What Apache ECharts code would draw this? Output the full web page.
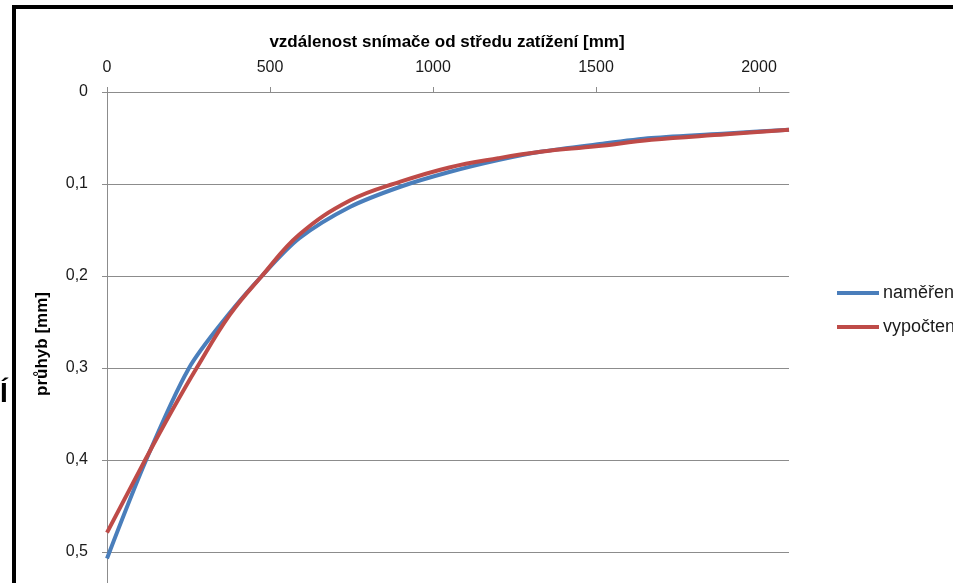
<!DOCTYPE html>
<html>
<head>
<meta charset="utf-8">
<script src="https://cdn.jsdelivr.net/npm/echarts@6/dist/echarts.min.js"></script>
<style>
html,body{margin:0;padding:0;background:#fff;}
#chart{width:953px;height:583px;}
</style>
</head>
<body>
<div id="chart"></div>
<script>
// Data
const seriesNames = ['naměřené', 'vypočtené'];
const xTicks = [0, 500, 1000, 1500, 2000];
const yTicks = [0, 0.1, 0.2, 0.3, 0.4, 0.5];
const measuredX = [0, 120, 250, 370, 475, 590, 745, 900, 1050, 1200, 1330, 1500, 1670, 1900, 2092];
const measuredY = [0.507, 0.400, 0.301, 0.243, 0.200, 0.159, 0.125, 0.103, 0.087, 0.074, 0.065, 0.057, 0.050, 0.045, 0.041];
const calcX = [0, 117, 200, 275, 377, 475, 590, 745, 900, 1050, 1200, 1330, 1500, 1670, 1900, 2092];
const calcY = [0.479, 0.400, 0.346, 0.300, 0.242, 0.200, 0.155, 0.118, 0.0975, 0.082, 0.072, 0.065, 0.059, 0.052, 0.046, 0.041];

const font = "'Liberation Sans', 'DejaVu Sans', sans-serif";
const gray = '#8c8c8c';
const chart = echarts.init(document.getElementById('chart'), null, {renderer: 'canvas'});

function pairs(xs, ys) { return xs.map((x, i) => [x, ys[i]]); }

chart.setOption({
  animation: false,
  backgroundColor: '#ffffff',
  grid: {left: 107, top: 92, right: 164, bottom: 0, containLabel: false},
  legend: {
    orient: 'vertical',
    left: 837,
    top: 284,
    padding: 0,
    itemWidth: 42,
    itemHeight: 18,
    itemGap: 16,
    icon: 'path://M0,7 L42,7 L42,11 L0,11 Z',
    textStyle: {fontFamily: font, fontSize: 18, color: '#1a1a1a', padding: [0, 0, 0, -1]},
    data: seriesNames
  },
  xAxis: {
    type: 'value',
    position: 'top',
    min: 0,
    max: 2092,
    interval: 500,
    axisLine: {show: true, lineStyle: {color: gray, width: 1}},
    axisTick: {show: true, length: 5, lineStyle: {color: gray}, customValues: xTicks},
    axisLabel: {fontFamily: font, fontSize: 16, color: '#1a1a1a', margin: 16, customValues: xTicks, formatter: v => String(v)},
    splitLine: {show: false}
  },
  yAxis: {
    type: 'value',
    inverse: true,
    min: 0,
    max: 0.5337,
    interval: 0.1,
    axisLine: {show: true, onZero: false, lineStyle: {color: gray, width: 1}},
    axisTick: {show: true, length: 5, lineStyle: {color: gray}, customValues: yTicks},
    axisLabel: {fontFamily: font, fontSize: 16, color: '#1a1a1a', margin: 19, customValues: yTicks,
      formatter: v => v === 0 ? '0' : Number(v).toFixed(1).replace('.', ',')},
    splitLine: {show: true, lineStyle: {color: gray, width: 1}}
  },
  series: [
    {
      name: seriesNames[0], type: 'line', smooth: 0.3, symbol: 'none',
      data: pairs(measuredX, measuredY),
      lineStyle: {color: '#4a7ebb', width: 4}, itemStyle: {color: '#4a7ebb'}
    },
    {
      name: seriesNames[1], type: 'line', smooth: 0.4, symbol: 'none',
      data: pairs(calcX, calcY),
      lineStyle: {color: '#be4b48', width: 4}, itemStyle: {color: '#be4b48'}
    }
  ],
  graphic: [
    {type: 'text', x: 447, y: 42,
      style: {text: 'vzdálenost snímače od středu zatížení [mm]', x: 0, y: 0, textAlign: 'center', textVerticalAlign: 'middle',
        font: 'bold 17px ' + font, fill: '#000'}},
    {type: 'text', x: 42, y: 344, rotation: Math.PI / 2,
      style: {text: 'průhyb [mm]', x: 0, y: 0, textAlign: 'center', textVerticalAlign: 'middle',
        font: 'bold 17px ' + font, fill: '#000'}},
    {type: 'text', x: 0, y: 394,
      style: {text: 'Í', x: 0, y: 0, textAlign: 'left', textVerticalAlign: 'middle',
        font: 'bold 28px ' + font, fill: '#000'}},
    {type: 'rect', shape: {x: 12, y: 5, width: 941, height: 4}, style: {fill: '#000'}},
    {type: 'rect', shape: {x: 12, y: 5, width: 4, height: 578}, style: {fill: '#000'}}
  ]
});
</script>
</body>
</html>
